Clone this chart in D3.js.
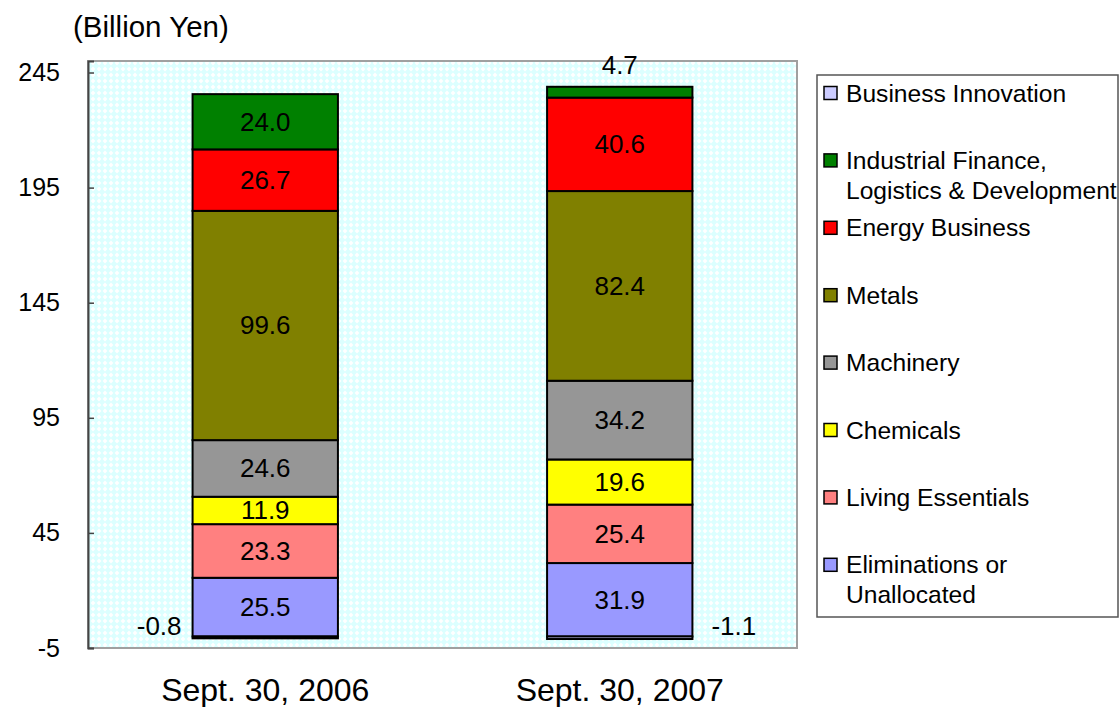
<!DOCTYPE html>
<html lang="en">
<head>
    <meta charset="utf-8">
    <title>Segment assets, stacked</title>
    <script src="https://d3js.org/d3.v7.min.js"></script>
    <style>
        body { margin: 0; background: #fff; }
        text { font-family: "Liberation Sans", Arial, sans-serif; fill: #000; }
    </style>
</head>
<body>
<script type="text/javascript">

    // data (Billion Yen)
    var categories = ["Sept. 30, 2006", "Sept. 30, 2007"];
    // bottom to top of stack
    var segments = ["Eliminations or Unallocated", "Living Essentials", "Chemicals", "Machinery",
                    "Metals", "Energy Business", "Industrial Finance, Logistics & Development", "Business Innovation"];
    var eliminations = [25.5, 31.9];
    var livingEssentials = [23.3, 25.4];
    var chemicals = [11.9, 19.6];
    var machinery = [24.6, 34.2];
    var metals = [99.6, 82.4];
    var energy = [26.7, 40.6];
    var industrialFinance = [24.0, 4.7];
    var businessInnovation = [-0.8, -1.1];
    var yTicks = [-5, 45, 95, 145, 195, 245];

    // legend (top to bottom), with line breaks as drawn
    var legendLines = [
        ["Business Innovation"],
        ["Industrial Finance,", "Logistics & Development"],
        ["Energy Business"],
        ["Metals"],
        ["Machinery"],
        ["Chemicals"],
        ["Living Essentials"],
        ["Eliminations or", "Unallocated"]
    ];

    var colors = {
        "Eliminations or Unallocated": "#9999ff",
        "Living Essentials": "#ff8080",
        "Chemicals": "#ffff00",
        "Machinery": "#969696",
        "Metals": "#808000",
        "Energy Business": "#ff0000",
        "Industrial Finance, Logistics & Development": "#008000",
        "Business Innovation": "#ccccff"
    };

    var series = [eliminations, livingEssentials, chemicals, machinery, metals, energy, industrialFinance, businessInnovation];

    var w = 1120, h = 707;
    var plot = {left: 88, top: 61, right: 797, bottom: 648};

    // plain hyphen for negatives, like the original
    var fmt1 = function (v) { return v.toFixed(1); };

    var svg = d3.select("body").append("svg")
        .attr("width", w)
        .attr("height", h);

    // dotted light cyan background
    var pat = svg.append("defs").append("pattern")
        .attr("id", "bg")
        .attr("width", 6).attr("height", 6)
        .attr("patternUnits", "userSpaceOnUse");
    pat.append("rect").attr("width", 6).attr("height", 6).attr("fill", "#dcffff");
    pat.append("path").attr("d", "M3,0.6L5.4,3L3,5.4L0.6,3Z").attr("fill", "#ffffff");

    var x = d3.scalePoint()
        .domain(categories)
        .range([plot.left, plot.right])
        .padding(0.5);
    var barW = x.step() * 0.41;

    var y = d3.scaleLinear()
        .domain([-5, 250])
        .range([plot.bottom, plot.top]);

    svg.append("rect")
        .attr("x", plot.left).attr("y", plot.top)
        .attr("width", plot.right - plot.left)
        .attr("height", plot.bottom - plot.top)
        .attr("fill", "url(#bg)")
        .attr("stroke", "#a0a0a0")
        .attr("stroke-width", 2);

    // stacking: positives up from 0, negatives down from 0
    var stacks = [];
    categories.forEach(function (c, ci) {
        var pos = 0, neg = 0;
        series.forEach(function (s, si) {
            var v = s[ci], y0, y1;
            if (v >= 0) { y0 = pos; y1 = pos + v; pos = y1; }
            else { y0 = neg + v; y1 = neg; neg = y0; }
            stacks.push({cat: c, ci: ci, key: segments[si], value: v, y0: y0, y1: y1});
        });
    });

    svg.selectAll("rect.seg")
        .data(stacks)
        .enter().append("rect")
        .attr("class", "seg")
        .attr("x", function (d) { return x(d.cat) - barW / 2; })
        .attr("y", function (d) { return y(d.y1); })
        .attr("width", barW)
        .attr("height", function (d) { return Math.max(y(d.y0) - y(d.y1), 0.5); })
        .attr("fill", function (d) { return colors[d.key]; })
        .attr("stroke", "#000")
        .attr("stroke-width", 2);

    // value labels
    svg.selectAll("text.val")
        .data(stacks)
        .enter().append("text")
        .attr("class", "val")
        .attr("font-size", 26)
        .attr("dominant-baseline", "central")
        .attr("text-anchor", function (d) {
            if (d.value < 0) return d.ci === 0 ? "end" : "start";
            return "middle";
        })
        .attr("x", function (d) {
            if (d.value < 0) return d.ci === 0 ? x(d.cat) - barW / 2 - 11 : x(d.cat) + barW / 2 + 19;
            return x(d.cat);
        })
        .attr("y", function (d) {
            var hpx = y(d.y0) - y(d.y1);
            if (d.value < 0) return y(0) - 10;
            if (hpx < 24) return y(d.y1) - 22;
            return (y(d.y0) + y(d.y1)) / 2;
        })
        .text(function (d) { return fmt1(d.value); });

    // y axis, ticks pointing inward
    var yAxis = svg.append("g")
        .attr("transform", "translate(" + plot.left + ",0)")
        .call(d3.axisLeft(y).tickValues(yTicks).tickSize(-6).tickPadding(28)
            .tickFormat(function (v) { return String(v); }));
    yAxis.select(".domain").attr("stroke", "#444").attr("stroke-width", 2);
    yAxis.selectAll(".tick line").attr("stroke", "#444").attr("stroke-width", 1.5);
    yAxis.selectAll(".tick text")
        .attr("font-size", 25)
        .attr("font-family", "'Liberation Sans', Arial, sans-serif")
        .attr("fill", "#000");

    svg.append("text")
        .attr("x", 73).attr("y", 37)
        .attr("font-size", 29.5)
        .text("(Billion Yen)");

    // category labels
    svg.selectAll("text.cat")
        .data(categories)
        .enter().append("text")
        .attr("class", "cat")
        .attr("x", function (d) { return x(d); })
        .attr("y", 701)
        .attr("text-anchor", "middle")
        .attr("font-size", 32)
        .text(function (d) { return d; });

    // legend
    var leg = svg.append("g");
    leg.append("rect")
        .attr("x", 817).attr("y", 75)
        .attr("width", 301).attr("height", 542)
        .attr("fill", "#fff")
        .attr("stroke", "#555")
        .attr("stroke-width", 1.5);

    var keysTopDown = segments.slice().reverse();
    var item = leg.selectAll("g.item")
        .data(legendLines)
        .enter().append("g")
        .attr("class", "item")
        .attr("transform", function (d, i) { return "translate(824," + (93 + i * 67.4) + ")"; });

    item.append("rect")
        .attr("x", 0).attr("y", -6.5)
        .attr("width", 13).attr("height", 13)
        .attr("fill", function (d, i) { return colors[keysTopDown[i]]; })
        .attr("stroke", "#000")
        .attr("stroke-width", 1.5);

    item.each(function (lines) {
        var g = d3.select(this);
        lines.forEach(function (t, li) {
            g.append("text")
                .attr("x", 22)
                .attr("y", li * 30)
                .attr("dominant-baseline", "central")
                .attr("font-size", 24.6)
                .text(t);
        });
    });

</script>
</body>
</html>
